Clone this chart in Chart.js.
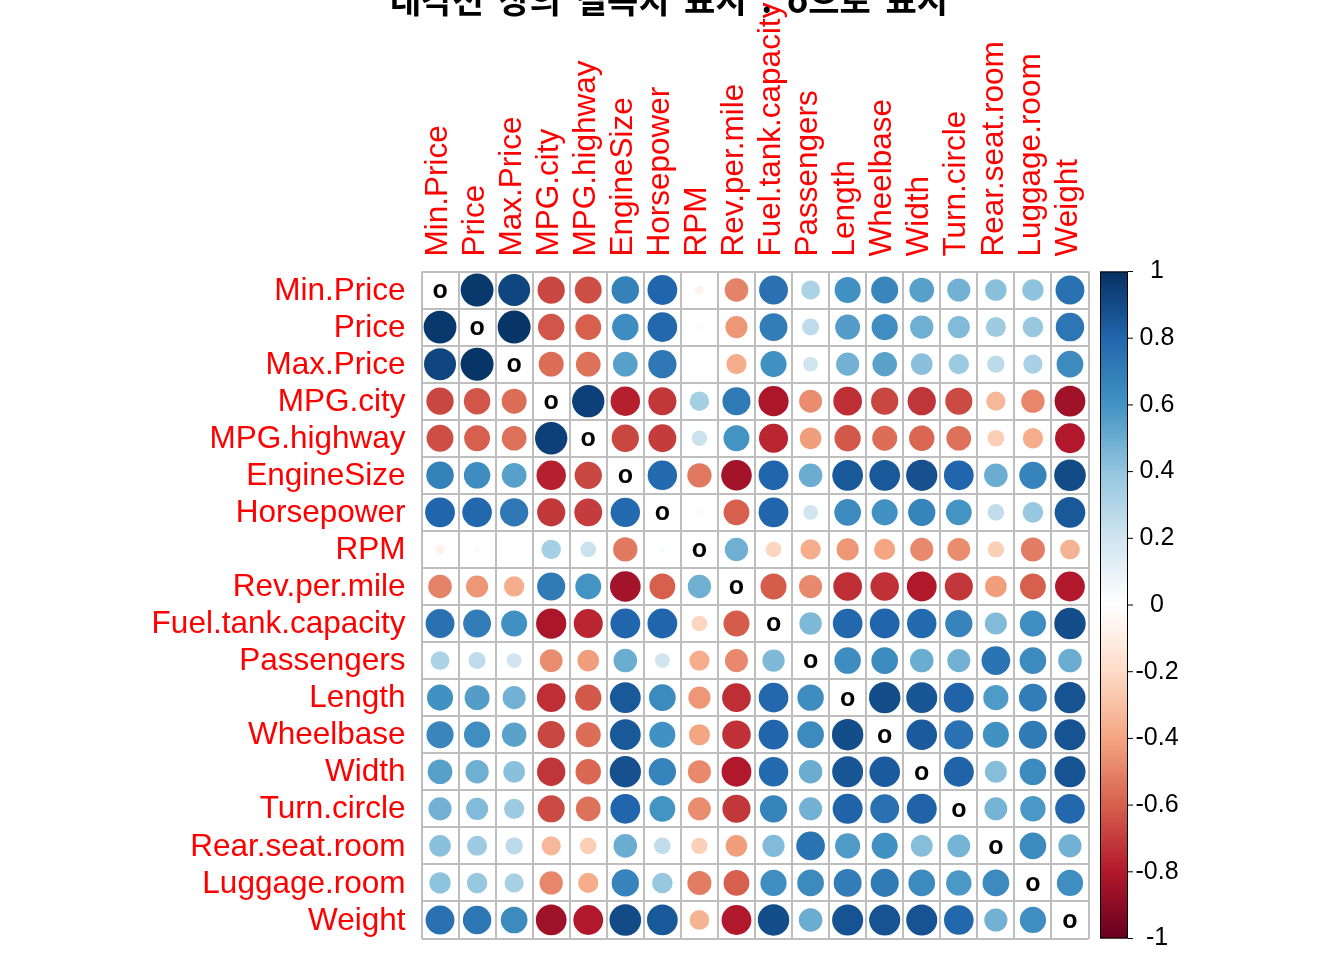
<!DOCTYPE html>
<html>
<head>
<meta charset="utf-8">
<script src="https://cdn.jsdelivr.net/npm/chart.js@4.4.1/dist/chart.umd.min.js"></script>
<style>
  html, body { margin: 0; padding: 0; background: #fff; }
</style>
</head>
<body>
<canvas id="myChart" width="1344" height="960"></canvas>
<script>
// titre du graphique (mots separes pour l'espacement)
const titleWords = ['대각선', '상의', '결측치', '표시', ':', 'o으로', '표시']

// noms des variables (lignes = colonnes)
const varNames = ['Min.Price', 'Price', 'Max.Price', 'MPG.city', 'MPG.highway', 'EngineSize',
  'Horsepower', 'RPM', 'Rev.per.mile', 'Fuel.tank.capacity', 'Passengers', 'Length',
  'Wheelbase', 'Width', 'Turn.circle', 'Rear.seat.room', 'Luggage.room', 'Weight']

// une ligne de la matrice de correlation par variable (null = diagonale)
const corMinPrice   = [null, 0.97, 0.92, -0.67, -0.65, 0.68, 0.80, -0.07, -0.50, 0.75, 0.32, 0.61, 0.66, 0.55, 0.48, 0.42, 0.41, 0.75]
const corPrice      = [0.97, null, 0.98, -0.63, -0.60, 0.63, 0.79, -0.03, -0.44, 0.70, 0.26, 0.56, 0.62, 0.49, 0.44, 0.36, 0.38, 0.73]
const corMaxPrice   = [0.92, 0.98, null, -0.56, -0.55, 0.55, 0.72, 0.01, -0.37, 0.61, 0.20, 0.48, 0.54, 0.42, 0.37, 0.27, 0.33, 0.64]
const corMPGcity    = [-0.67, -0.63, -0.56, null, 0.94, -0.78, -0.71, 0.34, 0.71, -0.82, -0.47, -0.74, -0.67, -0.72, -0.66, -0.33, -0.49, -0.85]
const corMPGhighway = [-0.65, -0.60, -0.55, 0.94, null, -0.67, -0.70, 0.22, 0.60, -0.76, -0.42, -0.62, -0.56, -0.58, -0.55, -0.25, -0.37, -0.80]
const corEngineSize = [0.68, 0.63, 0.55, -0.78, -0.67, null, 0.78, -0.53, -0.84, 0.80, 0.50, 0.85, 0.85, 0.88, 0.80, 0.50, 0.67, 0.90]
const corHorsepower = [0.80, 0.79, 0.72, -0.71, -0.70, 0.78, null, 0.03, -0.60, 0.80, 0.20, 0.64, 0.61, 0.67, 0.60, 0.25, 0.38, 0.85]
const corRPM        = [-0.07, -0.03, 0.01, 0.34, 0.22, -0.53, 0.03, null, 0.49, -0.22, -0.37, -0.44, -0.40, -0.48, -0.47, -0.24, -0.52, -0.35]
const corRevMile    = [-0.50, -0.44, -0.37, 0.71, 0.60, -0.84, -0.60, 0.49, null, -0.61, -0.48, -0.74, -0.73, -0.80, -0.71, -0.42, -0.60, -0.80]
const corFuelTank   = [0.75, 0.70, 0.61, -0.82, -0.76, 0.80, 0.80, -0.22, -0.61, null, 0.45, 0.79, 0.80, 0.78, 0.67, 0.44, 0.62, 0.89]
const corPassengers = [0.32, 0.26, 0.20, -0.47, -0.42, 0.50, 0.20, -0.37, -0.48, 0.45, null, 0.63, 0.64, 0.50, 0.48, 0.74, 0.64, 0.50]
const corLength     = [0.61, 0.56, 0.48, -0.74, -0.62, 0.85, 0.64, -0.44, -0.74, 0.79, 0.63, null, 0.89, 0.86, 0.81, 0.57, 0.70, 0.87]
const corWheelbase  = [0.66, 0.62, 0.54, -0.67, -0.56, 0.85, 0.61, -0.40, -0.73, 0.80, 0.64, 0.89, null, 0.84, 0.75, 0.61, 0.71, 0.87]
const corWidth      = [0.55, 0.49, 0.42, -0.72, -0.58, 0.88, 0.67, -0.48, -0.80, 0.78, 0.50, 0.86, 0.84, null, 0.81, 0.43, 0.64, 0.87]
const corTurnCircle = [0.48, 0.44, 0.37, -0.66, -0.55, 0.80, 0.60, -0.47, -0.71, 0.67, 0.48, 0.81, 0.75, 0.81, null, 0.47, 0.58, 0.79]
const corRearSeat   = [0.42, 0.36, 0.27, -0.33, -0.25, 0.50, 0.25, -0.24, -0.42, 0.44, 0.74, 0.57, 0.61, 0.43, 0.47, null, 0.64, 0.48]
const corLuggage    = [0.41, 0.38, 0.33, -0.49, -0.37, 0.67, 0.38, -0.52, -0.60, 0.62, 0.64, 0.70, 0.71, 0.64, 0.58, 0.64, null, 0.62]
const corWeight     = [0.75, 0.73, 0.64, -0.85, -0.80, 0.90, 0.85, -0.35, -0.80, 0.89, 0.50, 0.87, 0.87, 0.87, 0.79, 0.48, 0.62, null]

const corRows = [corMinPrice, corPrice, corMaxPrice, corMPGcity, corMPGhighway, corEngineSize,
  corHorsepower, corRPM, corRevMile, corFuelTank, corPassengers, corLength,
  corWheelbase, corWidth, corTurnCircle, corRearSeat, corLuggage, corWeight]

// echelle de couleur (legende)
const legendTicks = [1, 0.8, 0.6, 0.4, 0.2, 0, -0.2, -0.4, -0.6, -0.8, -1]
const legendLabels = ['1', '0.8', '0.6', '0.4', '0.2', '0', '-0.2', '-0.4', '-0.6', '-0.8', '-1']

// palette RdBu (de -1 a 1)
const rdbu = ['#67001F', '#B2182B', '#D6604D', '#F4A582', '#FDDBC7', '#FFFFFF',
  '#D1E5F0', '#92C5DE', '#4393C3', '#2166AC', '#053061']

function hexToRgb(h) {
  return [parseInt(h.slice(1, 3), 16), parseInt(h.slice(3, 5), 16), parseInt(h.slice(5, 7), 16)]
}

function corColor(v) {
  let t = (v + 1) / 2 * (rdbu.length - 1)
  let i = Math.min(Math.floor(t), rdbu.length - 2)
  let f = t - i
  let a = hexToRgb(rdbu[i]), b = hexToRgb(rdbu[i + 1])
  let c = a.map((x, k) => Math.round(x + (b[k] - x) * f))
  return 'rgb(' + c.join(',') + ')'
}

// points du graphique
let cells = []
corRows.forEach((row, i) => {
  row.forEach((v, j) => {
    if (v !== null) cells.push({ x: j, y: i, v: v })
  })
})

const n = varNames.length
let gridTicks = []
for (let k = 0; k <= n; k++) gridTicks.push({ value: k - 0.5 })

function cellSize(chart) {
  const xs = chart.scales.x
  return Math.abs(xs.getPixelForValue(1) - xs.getPixelForValue(0))
}

function circleRadius(context) {
  const raw = context.raw
  if (!raw) return 0
  return 0.45 * Math.sqrt(Math.abs(raw.v)) * cellSize(context.chart)
}

//****************** plugin : titre, libelles, diagonale, legende *****************//
const corrDecor = {
  id: 'corrDecor',
  afterDraw(chart) {
    const c = chart.ctx
    const xs = chart.scales.x, ys = chart.scales.y
    const area = chart.chartArea
    c.save()

    // libelles des lignes
    c.fillStyle = '#FF0000'
    c.font = '31.5px "Liberation Sans", Arial, sans-serif'
    c.textAlign = 'right'
    c.textBaseline = 'middle'
    varNames.forEach((name, i) => {
      c.fillText(name, area.left - 16, ys.getPixelForValue(i) + 1)
    })

    // libelles des colonnes (verticaux)
    c.textAlign = 'left'
    varNames.forEach((name, j) => {
      c.save()
      c.translate(xs.getPixelForValue(j) - 2, area.top - 15)
      c.rotate(-Math.PI / 2)
      c.fillText(name, 0, 0)
      c.restore()
    })

    // diagonale : o
    c.fillStyle = '#000000'
    c.font = 'bold 25px "Liberation Sans", Arial, sans-serif'
    c.textAlign = 'center'
    c.textBaseline = 'middle'
    for (let i = 0; i < n; i++) {
      c.fillText('o', xs.getPixelForValue(i), ys.getPixelForValue(i) + 1)
    }

    // legende de couleur
    const barLeft = 1100, barRight = 1128
    const barTop = area.top, barBottom = area.bottom
    const grad = c.createLinearGradient(0, barBottom, 0, barTop)
    rdbu.forEach((col, k) => grad.addColorStop(k / (rdbu.length - 1), col))
    c.fillStyle = grad
    c.fillRect(barLeft, barTop, barRight - barLeft, barBottom - barTop)
    c.strokeStyle = '#000'
    c.lineWidth = 1
    c.strokeRect(barLeft + 0.5, barTop + 0.5, barRight - barLeft - 1, barBottom - barTop - 1)
    c.font = '25px "Liberation Sans", Arial, sans-serif'
    c.fillStyle = '#000'
    c.textAlign = 'center'
    legendTicks.forEach((t, k) => {
      const py = barBottom - (t + 1) / 2 * (barBottom - barTop)
      c.beginPath()
      c.moveTo(barRight, py)
      c.lineTo(barRight + 5, py)
      c.stroke()
      c.fillText(legendLabels[k], 1157, py)
    })

    // titre (coupe en haut comme l'original)
    c.font = 'bold 34px "Noto Sans CJK KR", sans-serif'
    c.textAlign = 'left'
    c.textBaseline = 'alphabetic'
    const titleWidth = 558
    let wordsW = titleWords.reduce((s, w) => s + c.measureText(w).width, 0)
    let gap = (titleWidth - wordsW) / (titleWords.length - 1)
    let tx = 669 - titleWidth / 2
    titleWords.forEach(w => {
      c.fillText(w, tx, 13)
      tx += c.measureText(w).width + gap
    })

    c.restore()
  }
}

let ctx = document.getElementById('myChart')
let myChart = new Chart(ctx, {
  type: 'scatter',
  data: {
    datasets: [{
      data: cells,
      pointRadius: circleRadius,
      pointHoverRadius: circleRadius,
      pointBackgroundColor: (context) => context.raw ? corColor(context.raw.v) : '#fff',
      pointBorderWidth: 0,
      pointBorderColor: 'rgba(0,0,0,0)'
    }]
  },
  options: {
    responsive: false,
    animation: false,
    events: [],
    layout: { padding: { left: 421.5, right: 255.5, top: 271.5, bottom: 21.5 } },
    plugins: { legend: { display: false }, tooltip: { enabled: false }, title: { display: false } },
    scales: {
      x: {
        type: 'linear', min: -0.5, max: n - 0.5,
        afterBuildTicks: (axis) => { axis.ticks = gridTicks.map(t => ({ value: t.value })) },
        ticks: { display: false },
        grid: { color: '#BEBEBE', lineWidth: 2, drawTicks: false },
        border: { display: false }
      },
      y: {
        type: 'linear', min: -0.5, max: n - 0.5, reverse: true,
        afterBuildTicks: (axis) => { axis.ticks = gridTicks.map(t => ({ value: t.value })) },
        ticks: { display: false },
        grid: { color: '#BEBEBE', lineWidth: 2, drawTicks: false },
        border: { display: false }
      }
    }
  },
  plugins: [corrDecor]
})
</script>
</body>
</html>
